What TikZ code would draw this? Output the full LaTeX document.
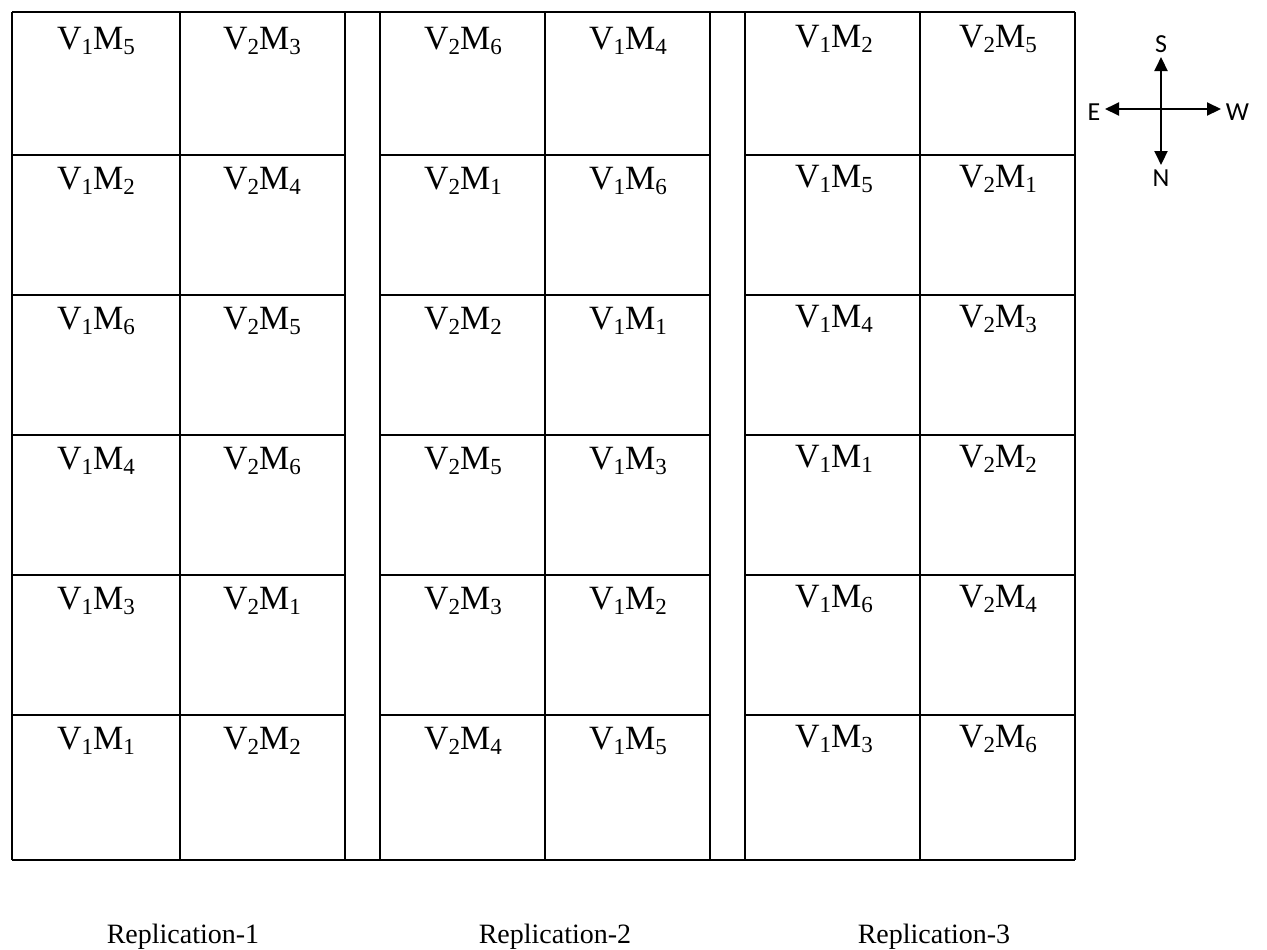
\documentclass[tikz,border=0pt]{standalone}
\usepackage{fontspec}
\setmainfont{Liberation Serif}
\newfontfamily\compassfont{Carlito}
\usetikzlibrary{arrows.meta}
\newcommand{\sub}[1]{\raisebox{-0.32ex}{\fontsize{11.5}{12}\selectfont #1}}
\newcommand{\vm}[2]{V\sub{#1}M\sub{#2}}

\begin{document}
\begin{tikzpicture}[x=0.5pt, y=-0.5pt, line width=0.8pt, >={Triangle[length=7pt,width=6.5pt]},
    plot/.style={font=\fontsize{17}{20}\selectfont, anchor=base, inner sep=0pt},
    dir/.style={font=\compassfont\fontsize{13}{15}\selectfont, inner sep=2pt},
    rep/.style={font=\fontsize{14}{16}\selectfont, anchor=base, inner sep=0pt}]
  \useasboundingbox (0,0) rectangle (1267,949);
  % ================================================================== field layout
  \draw (12,12) -- (1075,12);
  \draw (12,860) -- (1075,860);
  \foreach \x in {12,180,345,380,545,710,745,920,1075} \draw (\x,12) -- (\x,860);
  \foreach \xa/\xb in {12/345,380/710,745/1075}
    \foreach \y in {155,295,435,575,715} \draw (\xa,\y) -- (\xb,\y);
  % ================================================================== replication 1
  \foreach \a/\b/\c/\d [count=\r] in {1/5/2/3,1/2/2/4,1/6/2/5,1/4/2/6,1/3/2/1,1/1/2/2} {
    \node[plot] (p1l\r) at (96,{49+140*(\r-1)}) {\vm{\a}{\b}};
    \node[plot] (p1r\r) at (262,{49+140*(\r-1)}) {\vm{\c}{\d}};
  }
  \node[rep] (rep1) at (183,943) {Replication-1};
  % ================================================================== replication 2
  \foreach \a/\b/\c/\d [count=\r] in {2/6/1/4,2/1/1/6,2/2/1/1,2/5/1/3,2/3/1/2,2/4/1/5} {
    \node[plot] (p2l\r) at (463,{49+140*(\r-1)}) {\vm{\a}{\b}};
    \node[plot] (p2r\r) at (628,{49+140*(\r-1)}) {\vm{\c}{\d}};
  }
  \node[rep] (rep2) at (555,943) {Replication-2};
  % ================================================================== replication 3
  \foreach \a/\b/\c/\d [count=\r] in {1/2/2/5,1/5/2/1,1/4/2/3,1/1/2/2,1/6/2/4,1/3/2/6} {
    \node[plot] (p3l\r) at (834,{47+140*(\r-1)}) {\vm{\a}{\b}};
    \node[plot] (p3r\r) at (998,{47+140*(\r-1)}) {\vm{\c}{\d}};
  }
  \node[rep] (rep3) at (934,943) {Replication-3};
  % ================================================================== compass
  \coordinate (c) at (1161,109);
  \node[dir, anchor=south] (S) at (1161,57) {S};
  \node[dir, anchor=north] (N) at (1161,165) {N};
  \node[dir, anchor=east] (E) at (1105,112) {E};
  \node[dir, anchor=west] (W) at (1221,112) {W};
  \draw[line width=1pt, ->] (c) -- (S.south);
  \draw[line width=1pt, ->] (c) -- (N.north);
  \draw[line width=1pt, ->] (c) -- (c -| E.east);
  \draw[line width=1pt, ->] (c) -- (c -| W.west);
\end{tikzpicture}
\end{document}
